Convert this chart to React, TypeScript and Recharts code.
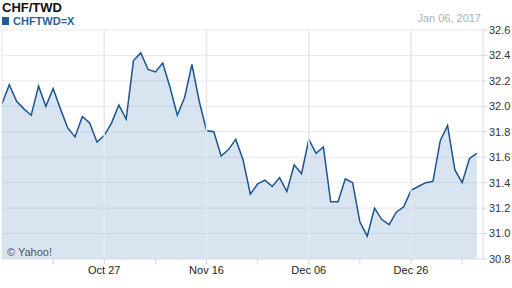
import React from 'react';
import { ComposedChart, Area, XAxis, YAxis, CartesianGrid, ReferenceLine } from 'recharts';

const dates = [
  'Oct 07', 'Oct 10', 'Oct 11', 'Oct 12', 'Oct 13', 'Oct 14', 'Oct 17', 'Oct 18', 'Oct 19', 'Oct 20', 'Oct 21',
  'Oct 24', 'Oct 25', 'Oct 26', 'Oct 27', 'Oct 28', 'Oct 31',
  'Nov 01', 'Nov 02', 'Nov 03', 'Nov 04', 'Nov 07', 'Nov 08', 'Nov 09', 'Nov 10', 'Nov 11',
  'Nov 14', 'Nov 15', 'Nov 16', 'Nov 17', 'Nov 18', 'Nov 21', 'Nov 22', 'Nov 23', 'Nov 24', 'Nov 25',
  'Nov 28', 'Nov 29', 'Nov 30',
  'Dec 01', 'Dec 02', 'Dec 05', 'Dec 06', 'Dec 07', 'Dec 08', 'Dec 09', 'Dec 12', 'Dec 13', 'Dec 14', 'Dec 15', 'Dec 16',
  'Dec 19', 'Dec 20', 'Dec 21', 'Dec 22', 'Dec 23', 'Dec 26', 'Dec 27', 'Dec 28', 'Dec 29', 'Dec 30',
  'Jan 02', 'Jan 03', 'Jan 04', 'Jan 05', 'Jan 06',
];

const rates = [
  32.02, 32.17, 32.04, 31.98, 31.93, 32.16, 32.0, 32.14, 31.98, 31.83, 31.76,
  31.92, 31.87, 31.72, 31.77, 31.87, 32.01,
  31.9, 32.36, 32.42, 32.29, 32.27, 32.34, 32.15, 31.93, 32.07,
  32.33, 32.04, 31.81, 31.8, 31.61, 31.66, 31.74, 31.58, 31.31, 31.39,
  31.42, 31.37, 31.44,
  31.33, 31.54, 31.47, 31.74, 31.63, 31.68, 31.25, 31.25, 31.43, 31.4, 31.09, 30.98,
  31.2, 31.11, 31.07, 31.17, 31.21, 31.34, 31.37, 31.4, 31.41, 31.73,
  31.85, 31.5, 31.4, 31.59, 31.63,
];

const yTicks = [30.8, 31.0, 31.2, 31.4, 31.6, 31.8, 32.0, 32.2, 32.4, 32.6];
const xTickIdx = [7, 14, 21, 28, 35, 42, 49, 56, 63];
const xLabelIdx = [14, 28, 42, 56];

const data = dates.map((d, i) => ({ i, date: d, rate: rates[i] }));

const FONT = 'Arial, "Liberation Sans", sans-serif';

export default function App() {
  return (
    <div style={{ position: 'absolute', left: 0, top: 0, width: 512, height: 288, background: '#fff', fontFamily: FONT }}>
      <ComposedChart
        width={512}
        height={288}
        data={data}
        margin={{ top: 30, right: 0, bottom: 0, left: 2 }}
      >
        <CartesianGrid vertical={false} stroke="#e6e9f0" strokeWidth={1} />
        <ReferenceLine x={0} stroke="#e1e4ea" strokeWidth={1} />
        {xLabelIdx.map((x) => (
          <ReferenceLine key={x} x={x} stroke="#e3e7ee" strokeWidth={1.5} />
        ))}
        <XAxis
          dataKey="i"
          type="number"
          domain={[0, 65.85]}
          allowDataOverflow
          ticks={xTickIdx}
          interval={0}
          tickFormatter={(v: number) => (xLabelIdx.includes(v) ? dates[v] : '')}
          axisLine={{ stroke: '#e1e4ea' }}
          tickLine={{ stroke: '#d0d4da' }}
          tickSize={5}
          height={29}
          tick={{ fill: '#222', fontSize: 11, fontFamily: FONT }}
        />
        <YAxis
          orientation="right"
          domain={[30.8, 32.6]}
          ticks={yTicks}
          interval={0}
          tickFormatter={(v: number) => v.toFixed(1)}
          axisLine={{ stroke: '#d8dbe0' }}
          tickLine={{ stroke: '#d0d4da' }}
          tickSize={4}
          width={29}
          tick={{ fill: '#333', fontSize: 11, fontFamily: FONT }}
        />
        <Area
          type="linear"
          dataKey="rate"
          stroke="#1b5490"
          strokeWidth={1.5}
          fill="#3d7fb8"
          fillOpacity={0.2}
          isAnimationActive={false}
          dot={false}
        />
      </ComposedChart>
      <div style={{ position: 'absolute', left: 2, top: 0, fontSize: 13, fontWeight: 'bold', color: '#111', lineHeight: '15px' }}>
        CHF/TWD
      </div>
      <div style={{ position: 'absolute', left: 2, top: 16, display: 'flex', alignItems: 'center', lineHeight: '10px' }}>
        <div style={{ width: 7, height: 8, background: '#1f5c99', marginRight: 4 }} />
        <span style={{ fontSize: 11, fontWeight: 'bold', color: '#2a5f97' }}>CHFTWD=X</span>
      </div>
      <div style={{ position: 'absolute', right: 31, top: 12, fontSize: 11, color: '#b0b0b0', lineHeight: '13px' }}>
        Jan 06, 2017
      </div>
      <div style={{ position: 'absolute', left: 7, top: 246, fontSize: 11, color: '#555', lineHeight: '13px' }}>
        © Yahoo!
      </div>
    </div>
  );
}
